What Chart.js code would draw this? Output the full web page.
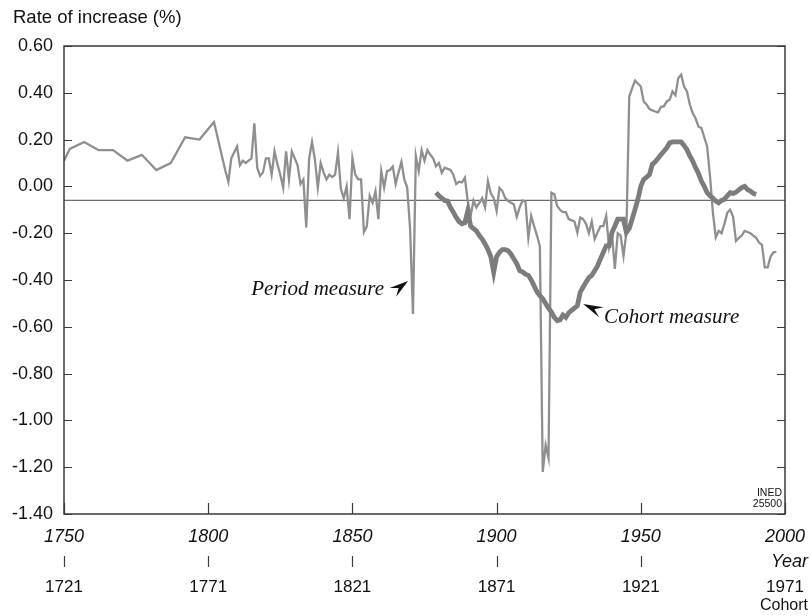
<!DOCTYPE html>
<html><head><meta charset="utf-8">
<script src="https://cdn.jsdelivr.net/npm/chart.js@4/dist/chart.umd.min.js"></script>
<style>html,body{margin:0;padding:0;background:#fff}#wrap{width:812px;height:616px}</style>
</head><body><div id="wrap"><canvas id="c" width="812" height="616"></canvas></div>
<script>
// ---- data ----
const periodYears = [
  1750,1752,1757,1762,1767,1772,1777,1782,1787,1792,1797,1802,
  1806,1807,1808,1809,1810,1811,1812,1813,1814,1815,
  1816,1817,1818,1819,1820,1821,1822,1823,1824,1825,
  1826,1827,1828,1829,1830,1831,1832,1833,1834,1835,
  1836,1837,1838,1839,1840,1841,1842,1843,1844,1845,
  1846,1847,1848,1849,1850,1851,1852,1853,1854,1855,
  1856,1857,1858,1859,1860,1861,1862,1863,1864,1865,
  1866,1867,1868,1869,1870,1871,1872,1873,1874,1875,
  1876,1877,1878,1879,1880,1881,1882,1883,1884,1885,
  1886,1887,1888,1889,1890,1891,1892,1893,1894,1895,
  1896,1897,1898,1899,1900,1901,1902,1903,1904,1905,
  1906,1907,1908,1909,1910,1911,1912,1913,1914,1915,
  1916,1917,1918,1919,1920,1921,1922,1923,1924,1925,
  1926,1927,1928,1929,1930,1931,1932,1933,1934,1935,
  1936,1937,1938,1939,1940,1941,1942,1943,1944,1945,
  1946,1947,1948,1949,1950,1951,1952,1953,1954,1955,
  1956,1957,1958,1959,1960,1961,1962,1963,1964,1965,
  1966,1967,1968,1969,1970,1971,1972,1973,1974,1975,
  1976,1977,1978,1979,1980,1981,1982,1983,1984,1985,
  1986,1987,1988,1989,1990,1991,1992,1993,1994,1995,
  1996,1997
];
const periodRate = [
  0.11,0.16,0.19,0.155,0.155,0.11,0.135,0.07,0.10,0.21,0.20,0.275,
  0.065,0.02,0.12,0.145,0.17,0.09,0.11,0.10,0.11,0.12,
  0.27,0.08,0.045,0.06,0.12,0.12,0.05,0.15,0.095,0.05,
  -0.005,0.15,0.03,0.15,0.12,0.09,0.01,0.03,-0.175,0.12,
  0.19,0.115,-0.005,0.10,0.06,0.03,0.05,0.04,0.05,0.145,
  -0.01,-0.05,0.0,-0.14,0.12,0.05,0.03,0.03,-0.195,-0.17,
  -0.04,-0.07,-0.02,-0.14,0.065,-0.005,0.065,0.07,0.085,0.01,
  0.06,0.105,0.03,-0.005,-0.18,-0.545,0.13,0.065,0.155,0.11,
  0.155,0.135,0.12,0.086,0.10,0.058,0.08,0.075,0.07,0.05,
  0.01,0.02,0.017,0.037,-0.063,-0.126,-0.06,-0.09,-0.07,-0.05,
  -0.09,0.023,-0.03,-0.05,-0.105,-0.006,-0.02,-0.05,-0.063,-0.07,
  -0.077,-0.13,-0.09,-0.06,-0.065,-0.22,-0.126,-0.17,-0.21,-0.255,
  -1.22,-1.105,-1.16,-0.027,-0.034,-0.083,-0.10,-0.11,-0.11,-0.14,
  -0.145,-0.15,-0.197,-0.133,-0.14,-0.16,-0.20,-0.15,-0.225,-0.197,
  -0.17,-0.17,-0.126,-0.26,-0.20,-0.353,-0.20,-0.21,-0.297,-0.197,
  0.384,0.42,0.452,0.44,0.427,0.363,0.35,0.33,0.325,0.32,
  0.316,0.34,0.342,0.363,0.37,0.406,0.39,0.463,0.477,0.427,
  0.406,0.35,0.313,0.29,0.255,0.25,0.21,0.171,0.044,-0.112,
  -0.218,-0.19,-0.20,-0.16,-0.112,-0.10,-0.13,-0.233,-0.22,-0.21,
  -0.19,-0.195,-0.20,-0.21,-0.22,-0.24,-0.25,-0.346,-0.346,-0.30,
  -0.282,-0.28
];
// cohort measure, placed at the period year (cohort year + 29)
const cohortYears = [
  1879,1880,1881,1882,1883,1884,1885,1886,1887,1888,1889,
  1890,1891,1892,1893,1894,1895,1896,1897,1898,1899,
  1900,1901,1902,1903,1904,1905,1906,1907,1908,1909,
  1910,1911,1912,1913,1914,1915,1916,1917,1918,1919,
  1920,1921,1922,1923,1924,1925,1926,1927,1928,1929,
  1930,1931,1932,1933,1934,1935,1936,1937,1938,1939,
  1940,1941,1942,1943,1944,1945,1946,1947,1948,1949,
  1950,1951,1952,1953,1954,1955,1956,1957,1958,1959,
  1960,1961,1962,1963,1964,1965,1966,1967,1968,1969,
  1970,1971,1972,1973,1974,1975,1976,1977,1978,1979,
  1980,1981,1982,1983,1984,1985,1986,1987,1988,1989,
  1990
];
const cohortRate = [
  -0.027,-0.04,-0.05,-0.06,-0.063,-0.09,-0.11,-0.133,-0.15,-0.16,-0.155,
  -0.105,-0.17,-0.18,-0.19,-0.21,-0.225,-0.246,-0.27,-0.30,-0.367,
  -0.30,-0.282,-0.27,-0.27,-0.275,-0.29,-0.31,-0.33,-0.36,-0.365,
  -0.375,-0.38,-0.40,-0.425,-0.45,-0.467,-0.48,-0.50,-0.52,-0.537,
  -0.56,-0.573,-0.57,-0.55,-0.56,-0.54,-0.53,-0.52,-0.51,-0.452,
  -0.43,-0.41,-0.39,-0.38,-0.36,-0.34,-0.31,-0.282,-0.254,-0.254,
  -0.197,-0.17,-0.14,-0.14,-0.14,-0.197,-0.18,-0.14,-0.098,-0.055,
  0.001,0.03,0.04,0.05,0.094,0.105,0.12,0.136,0.15,0.165,
  0.186,0.19,0.19,0.19,0.19,0.175,0.157,0.13,0.108,0.08,
  0.055,0.023,0.0,-0.027,-0.04,-0.05,-0.063,-0.07,-0.06,-0.055,
  -0.04,-0.027,-0.03,-0.025,-0.015,-0.005,0.0,-0.014,-0.02,-0.03,
  -0.034
];
const referenceYears = [1750, 2000];
const referenceRate = [-0.06, -0.06];
const yearTicks = [1750, 1800, 1850, 1900, 1950, 2000];
const cohortTickLabels = ['1721', '1771', '1821', '1871', '1921', '1971'];
const rateTicks = [0.6, 0.4, 0.2, 0, -0.2, -0.4, -0.6, -0.8, -1.0, -1.2, -1.4];
// annotation anchors (data units: year, rate)
const periodNote = {text: 'Period measure', year: 1869.3, rate: -0.404};
const cohortNote = {text: 'Cohort measure', year: 1930, rate: -0.503};

const pts = (xs, ys) => xs.map((v, i) => ({x: v, y: ys[i]}));

const SANS = '"Liberation Sans", Arial, Helvetica, sans-serif';
const SERIF = '"Liberation Serif", "Times New Roman", serif';

function dart(ctx, tx, ty, dx, dy, len, half) {
  const m = Math.hypot(dx, dy); const ux = dx / m, uy = dy / m; const px = -uy, py = ux;
  const bx = tx - ux * len, by = ty - uy * len;
  ctx.beginPath();
  ctx.moveTo(tx, ty);
  ctx.lineTo(bx + px * half, by + py * half);
  ctx.lineTo(tx - ux * len * 0.62, ty - uy * len * 0.62);
  ctx.lineTo(bx - px * half, by - py * half);
  ctx.closePath();
  ctx.fill();
}

const noPad = s => { s.paddingLeft = 0; s.paddingRight = 0; s.paddingTop = 0; s.paddingBottom = 0; };

const extras = {
  id: 'extras',
  afterDraw(chart) {
    const {ctx, chartArea: a, scales: {x, y, x2}} = chart;
    ctx.save();
    // frame
    ctx.strokeStyle = '#3a3a3a'; ctx.lineWidth = 1.5;
    ctx.strokeRect(a.left, a.top, a.right - a.left, a.bottom - a.top);
    // inward ticks
    ctx.lineWidth = 1.2; ctx.strokeStyle = '#3a3a3a';
    ctx.beginPath();
    y.ticks.forEach(t => {
      const py = Math.round(y.getPixelForValue(t.value)) + 0.5;
      ctx.moveTo(a.left, py); ctx.lineTo(a.left + 8, py);
      ctx.moveTo(a.right, py); ctx.lineTo(a.right - 8, py);
    });
    x.ticks.forEach((t, i) => {
      const px = Math.round(x.getPixelForValue(t.value)) + 0.5;
      ctx.moveTo(px, a.bottom); ctx.lineTo(px, a.bottom - 11);
      if (i < x.ticks.length - 1) { ctx.moveTo(px, x2.top + 1); ctx.lineTo(px, x2.top + 12); }
    });
    ctx.stroke();
    // texts
    ctx.fillStyle = '#111';
    ctx.textBaseline = 'middle';
    ctx.textAlign = 'left';
    ctx.font = '18.5px ' + SANS;
    ctx.fillText('Rate of increase (%)', 13, 18);
    ctx.textAlign = 'right';
    ctx.font = 'italic 18px ' + SANS;
    ctx.fillText('Year', 808, 562);
    ctx.font = '16px ' + SANS;
    ctx.fillText('Cohort', 808, 606);
    ctx.font = '10.5px ' + SANS;
    ctx.fillText('INED', a.right - 3, a.bottom - 21);
    ctx.fillText('25500', a.right - 3, a.bottom - 10);
    // annotations
    ctx.font = 'italic 21px ' + SERIF;
    let tx = x.getPixelForValue(periodNote.year), ty = y.getPixelForValue(periodNote.rate);
    dart(ctx, tx, ty, 16, -12, 19, 5.5);
    ctx.textAlign = 'right';
    ctx.fillText(periodNote.text, tx - 24, ty + 9);
    tx = x.getPixelForValue(cohortNote.year); ty = y.getPixelForValue(cohortNote.rate);
    dart(ctx, tx, ty, -20, -9, 20, 5.5);
    ctx.textAlign = 'left';
    ctx.fillText(cohortNote.text, tx + 21, ty + 13);
    ctx.restore();
  }
};

new Chart(document.getElementById('c'), {
  type: 'line',
  data: {
    datasets: [
      {label: 'Cohort measure', data: pts(cohortYears, cohortRate), borderColor: '#7c7c7c', borderWidth: 4.8, pointRadius: 0, tension: 0, order: 0},
      {label: 'Period measure', data: pts(periodYears, periodRate), borderColor: '#8f8f8f', borderWidth: 2.3, pointRadius: 0, tension: 0, order: 1},
      {label: 'Reference', data: pts(referenceYears, referenceRate), borderColor: '#6e6e6e', borderWidth: 1.3, pointRadius: 0, order: 2}
    ]
  },
  options: {
    responsive: false, animation: false, devicePixelRatio: 1,
    layout: {padding: {top: 46, right: 27, left: 0, bottom: 0}},
    plugins: {legend: {display: false}, tooltip: {enabled: false}},
    scales: {
      x: {
        type: 'linear', position: 'bottom', min: 1750, max: 2000, weight: 0,
        afterBuildTicks: s => { s.ticks = yearTicks.map(v => ({value: v})); },
        afterFit: s => { s.height = 41; noPad(s); },
        grid: {display: false, drawTicks: false}, border: {display: false},
        ticks: {autoSkip: false, maxRotation: 0, padding: 12, color: '#111',
          font: {family: SANS, size: 18, style: 'italic'}, callback: v => String(v)}
      },
      x2: {
        type: 'linear', position: 'bottom', min: 1750, max: 2000, weight: 1,
        afterBuildTicks: s => { s.ticks = yearTicks.map(v => ({value: v})); },
        afterFit: s => { s.height = 61; noPad(s); },
        grid: {display: false, drawTicks: false}, border: {display: false},
        ticks: {autoSkip: false, maxRotation: 0, padding: 22, color: '#111',
          font: {family: SANS, size: 17}, callback: (v, i) => cohortTickLabels[i]}
      },
      y: {
        min: -1.4, max: 0.6,
        afterBuildTicks: s => { s.ticks = rateTicks.map(v => ({value: v})); },
        afterFit: s => { s.width = 64; noPad(s); },
        grid: {display: false, drawTicks: false}, border: {display: false},
        ticks: {padding: 11, color: '#111', font: {family: SANS, size: 18},
          callback: v => (Math.abs(v) < 1e-9 ? 0 : v).toFixed(2)}
      }
    }
  },
  plugins: [extras]
});
</script></body></html>
